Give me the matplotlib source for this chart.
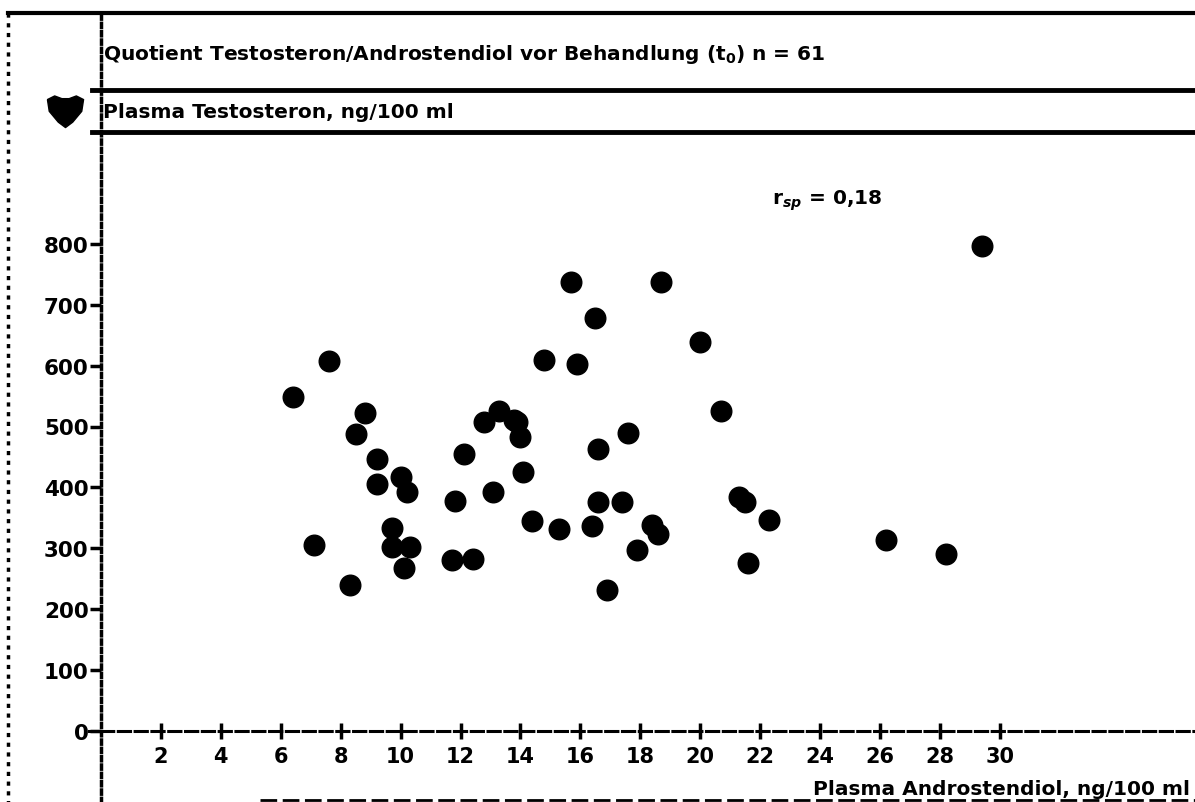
import matplotlib
matplotlib.use('Agg')
import matplotlib.pyplot as plt
from matplotlib.lines import Line2D
import numpy as np

# ------------------------------------------------------------
# Data
# ------------------------------------------------------------

androstendiol = [6.4, 7.1, 7.6, 8.3, 8.8, 8.5, 9.2, 9.2, 9.7, 10.0, 10.2, 9.7, 10.3, 10.1,
                 11.7, 12.4, 11.8, 12.1, 13.1, 12.8, 13.3, 13.9, 13.8, 14.0, 14.1, 14.4,
                 14.8, 15.3, 15.7, 15.9, 16.5, 16.6, 16.6, 16.4, 16.9, 17.4, 17.6, 17.9,
                 18.4, 18.6, 18.7, 20.0, 20.7, 21.3, 21.5, 21.6, 22.3, 26.2, 28.2, 29.4]
testosteron = [548, 305, 607, 240, 522, 487, 447, 405, 333, 417, 392, 302, 302, 267,
               280, 283, 378, 455, 393, 508, 525, 508, 510, 483, 425, 345,
               610, 331, 738, 603, 678, 463, 376, 337, 232, 376, 490, 297,
               339, 323, 738, 639, 525, 385, 376, 276, 346, 313, 290, 796]

x_ticks = [2, 4, 6, 8, 10, 12, 14, 16, 18, 20, 22, 24, 26, 28, 30]
y_ticks = [0, 100, 200, 300, 400, 500, 600, 700, 800]

title = 'Quotient Testosteron/Androstendiol vor Behandlung (t$_0$) n = 61'
y_title = 'Plasma Testosteron, ng/100 ml'
x_title = 'Plasma Androstendiol, ng/100 ml'
r_text = 'r$_{sp}$ = 0,18'

# ------------------------------------------------------------
# Layout (pixels of a 1195 x 803 page)
# ------------------------------------------------------------

W, H = 1195, 803
x0_px, y0_px = 101, 732          # origin
px_per_x, px_per_y = 29.96, 0.609
top_px = 14

plt.rcParams['font.family'] = 'DejaVu Sans'
plt.rcParams['font.weight'] = 'bold'

fig = plt.figure(figsize=(W / 100, H / 100), dpi=100)
ax = fig.add_axes([x0_px / W, 0, (W - x0_px) / W, (H - top_px) / H])
ax.patch.set_visible(False)
ax.set_xlim(0, (W - x0_px) / px_per_x)
ax.set_ylim(-(H - y0_px) / px_per_y, (y0_px - top_px) / px_per_y)

ax.scatter(androstendiol, testosteron, s=220, marker='o', color='black',
           edgecolors='black', linewidths=1, zorder=3)

ax.text(22.4, 873, r_text, fontsize=14.5, fontweight='bold', ha='left', va='center')

# axes crossing at the origin
for side in ['top', 'right']:
    ax.spines[side].set_visible(False)
ax.spines['bottom'].set_position(('data', 0))
ax.spines['left'].set_position(('data', 0))
ax.spines['bottom'].set_linestyle((0, (4, 1.5)))
ax.spines['bottom'].set_linewidth(2.2)
ax.spines['left'].set_linestyle((0, (1.2, 1.2)))
ax.spines['left'].set_linewidth(2.5)
# short stub of the x axis to the left of the origin
ax.plot([-0.4, 0], [0, 0], color='black', linewidth=2.2, clip_on=False)

ax.set_xticks(x_ticks)
ax.set_xticklabels([str(v) for v in x_ticks], fontsize=15, fontweight='bold')
ax.set_yticks(y_ticks)
ax.set_yticklabels([str(v) for v in y_ticks], fontsize=15.5, fontweight='bold')
ax.tick_params(axis='x', direction='inout', length=12, width=2.5, pad=5)
ax.tick_params(axis='y', direction='out', length=8, width=2.5, pad=1)

# ------------------------------------------------------------
# Frame and header boxes
# ------------------------------------------------------------

def fig_line(x1, y1, x2, y2, **kw):
    fig.add_artist(Line2D([x1 / W, x2 / W], [1 - y1 / H, 1 - y2 / H],
                          transform=fig.transFigure, color='black', **kw))

fig_line(8, top_px, W, top_px, linewidth=3)
fig_line(8, top_px, 8, H, linewidth=2.5, linestyle=(0, (1.2, 1.6)))
fig_line(92, 91, W, 91, linewidth=3.5)
fig_line(92, 133, W, 133, linewidth=3.5)
fig_line(260, 801, W, 801, linewidth=2, linestyle=(0, (6, 2)))

fig.text(103 / W, 1 - 55 / H, title, fontsize=14.5, fontweight='bold', va='center')
fig.text(103 / W, 1 - 113 / H, y_title, fontsize=14.5, fontweight='bold', va='center')
fig.text(1190 / W, 1 - 790 / H, x_title, fontsize=14.5, fontweight='bold',
         ha='right', va='center')

# shield symbol next to the y-axis header
shield = [(-1, 0.55), (-0.6, 0.75), (-0.2, 0.6), (0.2, 0.6), (0.6, 0.75), (1, 0.55),
          (0.9, -0.1), (0.4, -0.7), (0, -1), (-0.4, -0.7), (-0.9, -0.1), (-1, 0.55)]
fig.add_artist(Line2D([65 / W], [1 - 110 / H], transform=fig.transFigure,
                      marker=shield, markersize=26, color='black', linestyle='none'))

plt.savefig('out.png', dpi=100)
plt.close()
